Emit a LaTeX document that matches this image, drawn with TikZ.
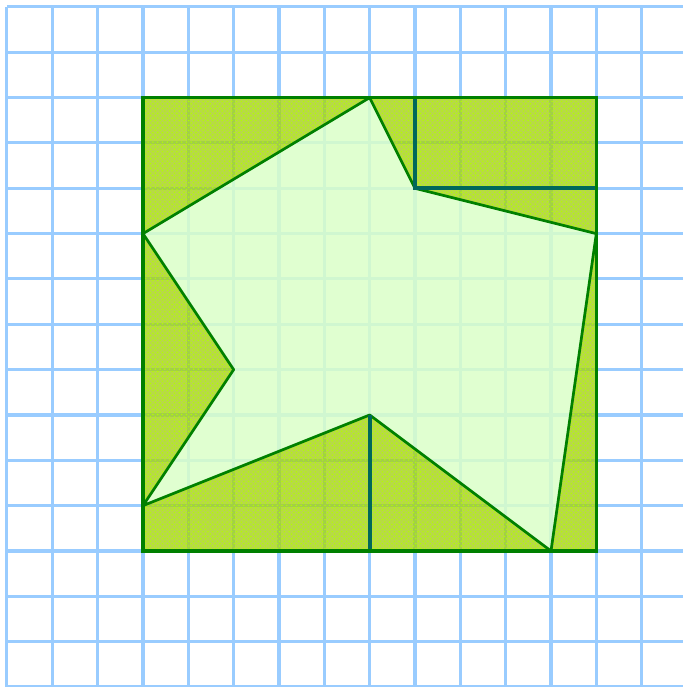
\documentclass[tikz,border=0pt]{standalone}
\usepackage{xcolor}
\usepackage{tikz}
\usetikzlibrary{patterns}

\definecolor{gridblue}{RGB}{153,204,255}
\definecolor{shadegreen}{RGB}{165,208,25}
\definecolor{stargreen}{RGB}{218,255,200}
\definecolor{edgegreen}{RGB}{0,128,0}
\definecolor{cutteal}{RGB}{0,104,90}

\begin{document}
\begin{tikzpicture}[
    gridline/.style={gridblue, line width=1.9pt},
    shade/.style={fill=shadegreen, fill opacity=0.8, even odd rule},
    hatch/.style={pattern=crosshatch dots, pattern color=yellow!70!green, even odd rule},
    star/.style={fill=stargreen, fill opacity=0.85, draw=edgegreen, line width=1.7pt, line join=round},
    outline/.style={draw=edgegreen, line width=1.9pt},
    cut/.style={draw=cutteal, line width=2.6pt}
]
    \useasboundingbox (-0.154,0) rectangle (14.89,15.154);
    % background grid
    \draw[gridline] (0,0) grid (15,15);

    % corners of the square
    \coordinate (sqa) at (3,3);
    \coordinate (sqb) at (13,13);
    % points of the star
    \coordinate (p1) at (8,13);
    \coordinate (p2) at (9,11);
    \coordinate (p3) at (13,10);
    \coordinate (p4) at (12,3);
    \coordinate (p5) at (8,6);
    \coordinate (p6) at (3,4);
    \coordinate (p7) at (5,7);
    \coordinate (p8) at (3,10);

    % the four leftover pieces
    \fill[shade] (sqa) rectangle (sqb)
        (p1) -- (p2) -- (p3) -- (p4) -- (p5) -- (p6) -- (p7) -- (p8) -- cycle;
    \fill[hatch] (sqa) rectangle (sqb)
        (p1) -- (p2) -- (p3) -- (p4) -- (p5) -- (p6) -- (p7) -- (p8) -- cycle;
    \path[star] (p1) -- (p2) -- (p3) -- (p4) -- (p5) -- (p6) -- (p7) -- (p8) -- cycle;

    % cutting lines
    \coordinate (c1) at (9,13);
    \coordinate (c2) at (13,11);
    \coordinate (c3) at (8,3);
    \draw[cut] (c1) -- (p2) -- (c2);
    \draw[cut] (p5) -- (c3);

    \draw[outline] (sqa) rectangle (sqb);
\end{tikzpicture}
\end{document}
